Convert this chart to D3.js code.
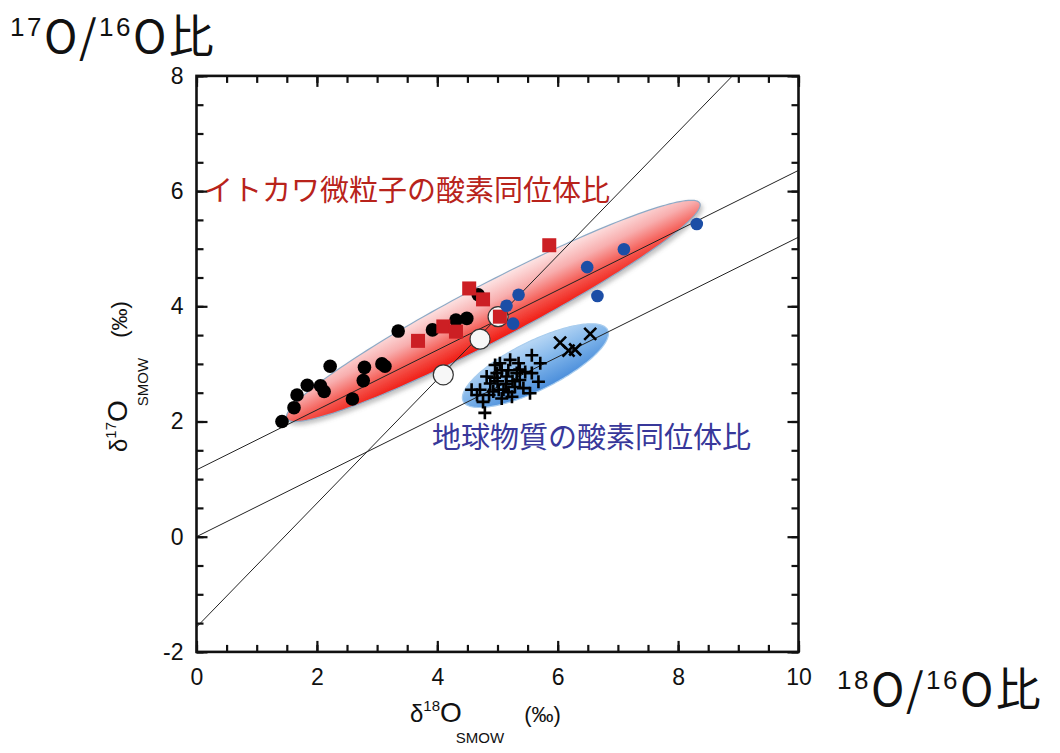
<!DOCTYPE html>
<html>
<head>
<meta charset="utf-8">
<script src="https://cdn.jsdelivr.net/npm/d3@7"></script>
<style>
  body { margin: 0; background: #fff; }
  svg { display: block; }
  .tick text { font-family: "Liberation Sans", Arial, sans-serif; font-size: 23px; fill: #111; }
  .jp { font-family: "Noto Sans CJK JP", sans-serif; }
</style>
</head>
<body>
<svg id="chart"></svg>
<script>
// data (delta 18O, delta 17O in permil)
const blackDots = [[1.42,2.00],[1.62,2.24],[1.67,2.46],[1.84,2.63],[2.06,2.62],[2.12,2.52],[2.22,2.96],
  [2.59,2.39],[2.77,2.71],[2.79,2.94],[3.08,3.00],[3.13,2.96],[3.35,3.57],[3.92,3.59],[4.31,3.76],
  [4.49,3.79],[4.68,4.20]];
const redSquares = [[3.68,3.40],[4.10,3.65],[4.31,3.56],[4.53,4.31],[4.76,4.12],[5.04,3.82],[5.86,5.06]];
const blueDots = [[5.15,4.01],[5.35,4.20],[5.26,3.70],[6.49,4.68],[7.10,4.99],[6.66,4.18],[8.31,5.43]];
const openDots = [[4.10,2.81],[4.71,3.43],[5.01,3.82]];
const plusMarks = [[4.57,2.55],[4.76,2.34],[4.79,2.15],[4.96,2.98],[5.04,3.01],[5.21,3.07],[5.35,3.01],
  [5.57,3.15],[5.71,3.01],[5.68,2.69],[5.54,2.49],[5.07,2.40],[5.24,2.43],[4.88,2.66],[4.93,2.52],
  [5.15,2.78],[5.37,2.72],[5.29,2.60],[4.99,2.84],[4.82,2.78],[5.46,2.86],[5.18,2.89],[4.71,2.55],
  [5.10,2.55],[5.43,2.58],[5.57,2.84],[5.32,2.84],[5.00,2.70],[5.14,2.65],[5.25,2.70],[4.95,2.76],
  [5.07,2.89],[4.86,2.46],[5.37,2.90],[5.18,2.51],[4.66,2.46],[5.02,2.55]];
const xMarks = [[6.04,3.37],[6.18,3.23],[6.29,3.25],[6.54,3.52]];

// reference lines: slope, intercept
const refLines = [[0.52,1.16],[0.52,0.0],[1.075,-1.57]];

// shaded fields: centre, major vector, minor vector (data units)
const redField = {c:[4.93,3.92], a:[3.43,1.87], b:[0.21,-0.44]};
const blueField = {c:[5.63,2.97], a:[1.20,0.62], b:[0.18,-0.38]};

const xMajor = [0,2,4,6,8,10];
const yMajor = [-2,0,2,4,6,8];
const xMinor = d3.range(0,10.01,0.5);
const yMinor = d3.range(-2,8.01,0.5);

const W = 1060, H = 753;
const svg = d3.select("#chart").attr("width", W).attr("height", H);

const x = d3.scaleLinear().domain([0,10]).range([196.5,798.5]);
const y = d3.scaleLinear().domain([-2,8]).range([651.9,75.9]);

const defs = svg.append("defs");

function fieldPath(f) {
  const pts = d3.range(0, 2*Math.PI, Math.PI/90).map(t => [
    f.c[0] + f.a[0]*Math.cos(t) + f.b[0]*Math.sin(t),
    f.c[1] + f.a[1]*Math.cos(t) + f.b[1]*Math.sin(t)]);
  return d3.line().x(d => x(d[0])).y(d => y(d[1])).curve(d3.curveLinearClosed)(pts);
}

function fieldGradient(id, f, stops) {
  const g = defs.append("linearGradient").attr("id", id)
    .attr("gradientUnits", "userSpaceOnUse")
    .attr("x1", x(f.c[0] - f.b[0])).attr("y1", y(f.c[1] - f.b[1]))
    .attr("x2", x(f.c[0] + f.b[0])).attr("y2", y(f.c[1] + f.b[1]));
  stops.forEach(s => g.append("stop").attr("offset", s[0]).attr("stop-color", s[1]));
}

fieldGradient("redGrad", redField, [[0,"#fde4e4"],[0.35,"#f8aeae"],[0.7,"#f4544c"],[1,"#f01a12"]]);
fieldGradient("blueGrad", blueField, [[0,"#b8d7f5"],[0.5,"#80b5ea"],[1,"#4b8edb"]]);

const shadow = defs.append("filter").attr("id", "shadow").attr("x", "-10%").attr("y", "-30%")
  .attr("width", "120%").attr("height", "160%");
shadow.append("feDropShadow").attr("dx", 2).attr("dy", 3).attr("stdDeviation", 2)
  .attr("flood-color", "#666").attr("flood-opacity", 0.4);

svg.append("path").attr("d", fieldPath(redField)).attr("fill", "url(#redGrad)")
  .attr("stroke", "#8eaac6").attr("stroke-width", 1.2).attr("filter", "url(#shadow)");
svg.append("path").attr("d", fieldPath(blueField)).attr("fill", "url(#blueGrad)")
  .attr("stroke", "#a9cdee").attr("stroke-width", 1.2);

// reference lines clipped to the frame
defs.append("clipPath").attr("id", "frameClip").append("rect")
  .attr("x", x(0)).attr("y", y(8)).attr("width", x(10)-x(0)).attr("height", y(-2)-y(8));
svg.append("g").attr("clip-path", "url(#frameClip)")
  .selectAll("line").data(refLines).join("line")
  .attr("x1", x(0)).attr("y1", d => y(d[1]))
  .attr("x2", x(10)).attr("y2", d => y(d[0]*10 + d[1]))
  .attr("stroke", "#222").attr("stroke-width", 1);

// markers
svg.append("g").selectAll("circle").data(blackDots).join("circle")
  .attr("cx", d => x(d[0])).attr("cy", d => y(d[1])).attr("r", 6.8).attr("fill", "#000");
svg.append("g").selectAll("circle").data(openDots).join("circle")
  .attr("cx", d => x(d[0])).attr("cy", d => y(d[1])).attr("r", 10)
  .attr("fill", "#f7f7f7").attr("stroke", "#333").attr("stroke-width", 1.2);
svg.append("g").selectAll("rect").data(redSquares).join("rect")
  .attr("x", d => x(d[0]) - 7).attr("y", d => y(d[1]) - 7).attr("width", 14).attr("height", 14)
  .attr("fill", "#cc1f24");
svg.append("g").selectAll("circle").data(blueDots).join("circle")
  .attr("cx", d => x(d[0])).attr("cy", d => y(d[1])).attr("r", 6.3).attr("fill", "#1c4ea6");
svg.append("g").selectAll("path").data(plusMarks).join("path")
  .attr("d", d => `M${x(d[0])-6.5},${y(d[1])}h13M${x(d[0])},${y(d[1])-6.5}v13`)
  .attr("stroke", "#000").attr("stroke-width", 2.6);
svg.append("g").selectAll("path").data(xMarks).join("path")
  .attr("d", d => `M${x(d[0])-6},${y(d[1])-6}l12,12M${x(d[0])-6},${y(d[1])+6}l12,-12`)
  .attr("stroke", "#000").attr("stroke-width", 2.6);

// axes: inward ticks on all four sides
function addAxis(axis, tx, ty, vals, size, labels) {
  const g = svg.append("g").attr("transform", `translate(${tx},${ty})`)
    .call(axis.tickValues(vals).tickSize(size).tickFormat(labels ? (d => String(d)) : ""));
  g.select(".domain").remove();
  g.selectAll(".tick line").attr("stroke", "#111").attr("stroke-width", 2.2);
  return g;
}
addAxis(d3.axisBottom(x), 0, y(-2), xMinor, -7, false);
addAxis(d3.axisTop(x), 0, y(8), xMinor, -7, false);
addAxis(d3.axisLeft(y), x(0), 0, yMinor, -7, false);
addAxis(d3.axisRight(y), x(10), 0, yMinor, -7, false);
addAxis(d3.axisBottom(x).tickPadding(17), 0, y(-2), xMajor, -11, true);
addAxis(d3.axisLeft(y).tickPadding(13), x(0), 0, yMajor, -11, true);
addAxis(d3.axisTop(x), 0, y(8), xMajor, -11, false);
addAxis(d3.axisRight(y), x(10), 0, yMajor, -11, false);

svg.append("rect").attr("x", x(0)).attr("y", y(8))
  .attr("width", x(10)-x(0)).attr("height", y(-2)-y(8))
  .attr("fill", "none").attr("stroke", "#111").attr("stroke-width", 2.6);

// axis titles
const helv = "'Liberation Sans', Arial, sans-serif";
function deltaTitle(sel, iso) {
  sel.append("tspan").attr("font-size", 24).text("δ");
  sel.append("tspan").attr("font-size", 15).attr("dy", -11).text(iso);
  sel.append("tspan").attr("font-size", 28).attr("dy", 11).text("O");
  sel.append("tspan").attr("font-size", 15).attr("dy", 21).attr("dx", -6).text("SMOW");
  sel.append("tspan").attr("font-size", 22).attr("dy", -21).attr("dx", 20).text("(‰)");
}
deltaTitle(svg.append("text").attr("x", 410).attr("y", 722)
  .attr("font-family", helv).attr("fill", "#111"), "18");
deltaTitle(svg.append("text").attr("transform", "translate(127,452) rotate(-90)")
  .attr("font-family", helv).attr("fill", "#111"), "17");

// ratio captions
function ratioCaption(px, py, heavy) {
  const t = svg.append("text").attr("class", "jp").attr("x", px).attr("y", py)
    .attr("fill", "#111").attr("letter-spacing", 2.5);
  t.append("tspan").attr("font-family", helv).attr("font-size", 26).attr("dy", -17).text(heavy);
  t.append("tspan").attr("font-size", 45).attr("dy", 17).text("O/");
  t.append("tspan").attr("font-family", helv).attr("font-size", 26).attr("dy", -17).text("16");
  t.append("tspan").attr("font-size", 45).attr("dy", 17).text("O比");
}
ratioCaption(10, 53, "17");
ratioCaption(837, 706, "18");

svg.append("text").attr("class", "jp").attr("x", 204).attr("y", 201)
  .attr("font-size", 29).attr("fill", "#b8231b").text("イトカワ微粒子の酸素同位体比");
svg.append("text").attr("class", "jp").attr("x", 432).attr("y", 448)
  .attr("font-size", 29).attr("fill", "#38389a").text("地球物質の酸素同位体比");
</script>
</body>
</html>
